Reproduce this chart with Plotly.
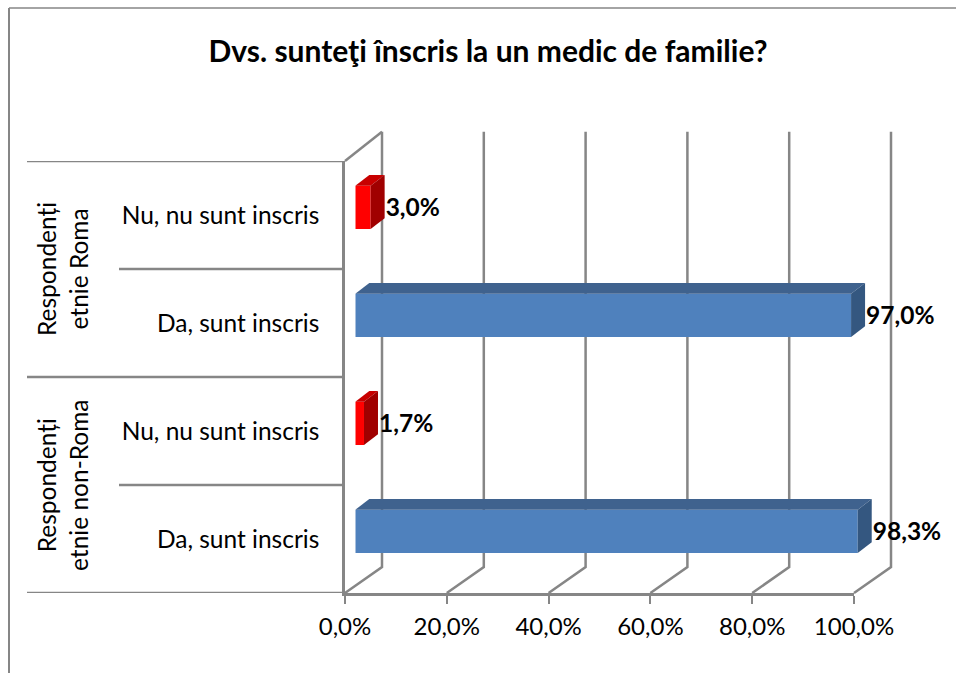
import plotly.graph_objects as go

W, H = 956, 673
title = "Dvs. sunteţi înscris la un medic de familie?"
categories = ["Da, sunt inscris", "Nu, nu sunt inscris", "Da, sunt inscris", "Nu, nu sunt inscris"]
groups = ["Respondenți<br>etnie non-Roma", "Respondenți<br>etnie Roma"]
values = [98.3, 1.7, 97.0, 3.0]
value_labels = ["98,3%", "1,7%", "97,0%", "3,0%"]
x_ticks = [0, 20, 40, 60, 80, 100]
x_tick_labels = ["0,0%", "20,0%", "40,0%", "60,0%", "80,0%", "100,0%"]

GRAY = "#868686"
LW = 2.5
FONT = "Lato"
front = ["#4F81BD", "#FF0000", "#4F81BD", "#FF0000"]
top = ["#3F628E", "#C80000", "#3F628E", "#C80000"]
side = ["#345780", "#A00000", "#345780", "#A00000"]

pos = [i + 0.5 for i in range(4)]
bar_h = 0.40
bar_shift = 0.07
label_shift = -0.02
dx_bar, dy_bar = 2.74, 0.10      # depth of bars in axis units
dx_wall, dy_floor, dy_top = 7.27, 0.24, 0.27

# pixel geometry of the value and category scales
X0, X100, Y0, Y4 = 345, 854, 593, 161
ppu_x = (X100 - X0) / 100
ppu_y = (Y0 - Y4) / 4

fig = go.Figure()

# back wall and floor grid: full-page hidden axes (x, y), same scale as the visible axes
for t in x_ticks:
    fig.add_trace(go.Scatter(
        x=[t, t + dx_wall, t + dx_wall], y=[0, dy_floor, 4 + dy_top], mode="lines", xaxis="x", yaxis="y",
        line=dict(color=GRAY, width=LW), showlegend=False, hoverinfo="skip"))
fig.add_trace(go.Scatter(
    x=[0, dx_wall], y=[4, 4 + dy_top], mode="lines", xaxis="x", yaxis="y",
    line=dict(color=GRAY, width=LW), showlegend=False, hoverinfo="skip"))

# keeps the visible axes' subplot alive
fig.add_trace(go.Scatter(x=[0], y=[0], mode="markers", marker=dict(opacity=0), xaxis="x2", yaxis="y2",
                         showlegend=False, hoverinfo="skip"))

# bars, front faces
centers = [p + bar_shift for p in pos]
fig.add_trace(go.Bar(
    x=values, y=centers, orientation="h", width=bar_h, xaxis="x3", yaxis="y2",
    marker=dict(color=front, line=dict(width=0)), showlegend=False, hoverinfo="skip"))

# bars, top and side faces
for v, c, tc, sc in zip(values, centers, top, side):
    t, b = c + bar_h / 2, c - bar_h / 2
    fig.add_trace(go.Scatter(
        x=[0, v, v + dx_bar, dx_bar, 0], y=[t, t, t + dy_bar, t + dy_bar, t],
        mode="lines", fill="toself", fillcolor=tc, line=dict(width=0), xaxis="x3", yaxis="y2",
        showlegend=False, hoverinfo="skip"))
    fig.add_trace(go.Scatter(
        x=[v, v + dx_bar, v + dx_bar, v, v], y=[b, b + dy_bar, t + dy_bar, t, b],
        mode="lines", fill="toself", fillcolor=sc, line=dict(width=0), xaxis="x3", yaxis="y2",
        showlegend=False, hoverinfo="skip"))

# data labels
fig.add_trace(go.Scatter(
    x=[v + dx_bar + 0.2 for v in values], y=[c + label_shift for c in centers], mode="text", text=value_labels,
    textposition="middle right", textfont=dict(family=FONT, size=24.5, color="black", weight="bold"),
    xaxis="x3", yaxis="y2", cliponaxis=False, showlegend=False, hoverinfo="skip"))

shapes = [
    dict(type="line", xref="paper", yref="paper", x0=9 / W, x1=9 / W, y0=0, y1=1 - 8 / H,
         line=dict(color=GRAY, width=2)),
    dict(type="line", xref="paper", yref="paper", x0=9 / W, x1=1, y0=1 - 8 / H, y1=1 - 8 / H,
         line=dict(color=GRAY, width=1.5)),
]
for y0, xpx in [(0, 27), (1, 119), (2, 27), (3, 119), (4, 27)]:
    shapes.append(dict(type="line", xref="paper", yref="y2", x0=xpx / W, x1=X0 / W, y0=y0, y1=y0,
                       line=dict(color=GRAY, width=LW), layer="below"))

annotations = [
    dict(text=g, xref="paper", yref="y2", x=62 / W, y=yy, textangle=-90, showarrow=False,
         font=dict(family=FONT, size=24.5, color="black"), align="center", xanchor="center", yanchor="middle")
    for g, yy in zip(groups, [1, 3])
]

fig.update_layout(
    width=W, height=H, autosize=False,
    margin=dict(l=0, r=0, t=0, b=0, autoexpand=False),
    paper_bgcolor="white", plot_bgcolor="rgba(0,0,0,0)",
    showlegend=False, barmode="overlay",
    title=dict(text=title, x=488 / W, xanchor="center", y=1 - 51 / H, yanchor="middle",
               font=dict(family=FONT, size=30, color="black", weight="bold"), automargin=False),
    shapes=shapes, annotations=annotations,
    xaxis=dict(domain=[0, 1], range=[-X0 / ppu_x, (W - X0) / ppu_x], visible=False, anchor="y"),
    yaxis=dict(domain=[0, 1], range=[-(H - Y0) / ppu_y, Y0 / ppu_y], visible=False, anchor="x"),
    xaxis2=dict(domain=[X0 / W, X100 / W], range=[0, 100], tickvals=x_ticks, ticktext=x_tick_labels,
                showgrid=False, zeroline=False, showline=True, linecolor=GRAY, linewidth=LW,
                ticks="outside", ticklen=8, tickwidth=2, tickcolor=GRAY, ticklabelstandoff=2,
                tickfont=dict(family=FONT, size=24, color="black"), anchor="y2"),
    yaxis2=dict(domain=[(H - Y0) / H, (H - Y4) / H], range=[0, 4], tickvals=pos, ticktext=categories,
                showgrid=False, zeroline=False, showline=True, linecolor=GRAY, linewidth=LW,
                ticks="", ticklabelstandoff=18,
                tickfont=dict(family=FONT, size=24.5, color="black"), anchor="x2"),
    xaxis3=dict(domain=[355.3 / W, (355.3 + 5.111 * 110) / W], range=[0, 110], visible=False, anchor="y2"),
)

fig.write_html("out.html", post_script="document.body.style.margin='0';", config={"displayModeBar": False})
